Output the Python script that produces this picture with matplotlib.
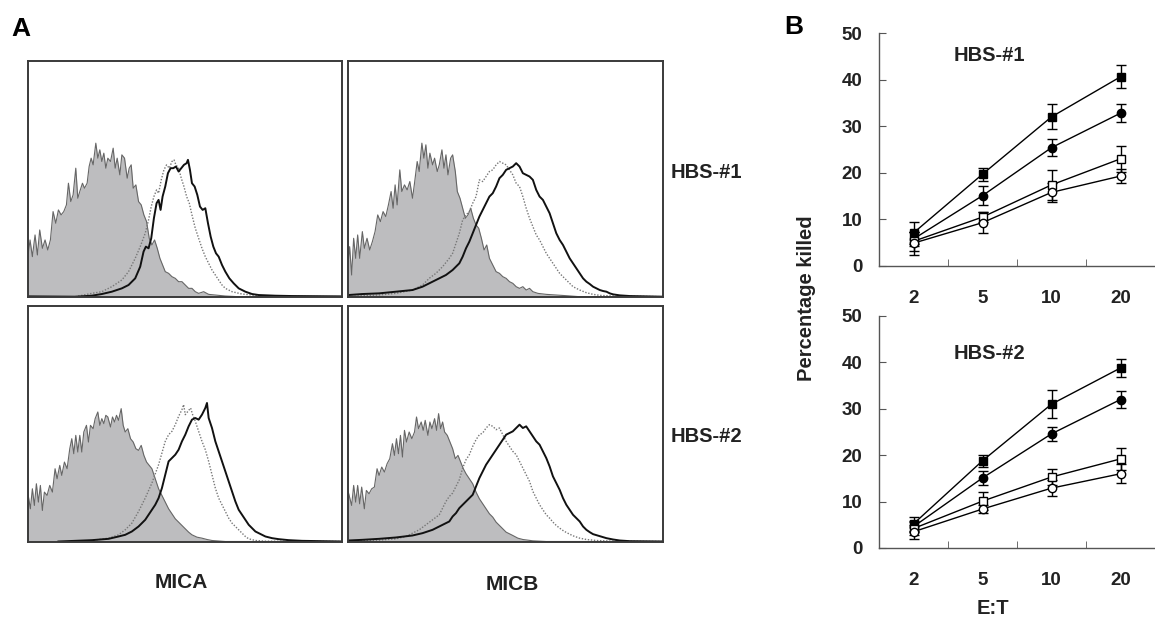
'''
Flow cytometry histograms (MICA / MICB) and cytotoxicity curves for HBS-#1 and HBS-#2
'''
import numpy as np
import matplotlib
matplotlib.use("Agg")
from matplotlib import pyplot as plt

plt.rcParams['font.family'] = ['Liberation Sans', 'DejaVu Sans']
plt.rcParams['font.weight'] = 'bold'

# ---- panel A: histograms, (channel, events) ----
# top left: MICA, HBS-#1
tl_gray = [(8,115),(15,170),(22,120),(30,185),(37,125),(44,200),(52,145),(60,170),(68,140),(76,170),
           (84,255),(92,220),(100,260),(108,245),(116,255),(124,275),(130,340),(137,285),(144,305),
           (152,385),(158,295),(164,315),(172,340),(178,325),(186,340),(192,390),(198,415),(204,395),
           (212,460),(218,415),(224,440),(230,405),(236,430),(242,385),(248,415),(256,405),(264,445),
           (270,385),(276,415),(284,365),(290,425),(298,415),(306,355),(312,385),(318,395),(324,325),
           (332,335),(340,285),(348,275),(356,245),(364,225),(372,175),(380,155),(388,170),(396,145),
           (404,115),(412,95),(420,75),(430,70),(440,60),(450,55),(460,45),(470,45),(480,35),(490,25),
           (500,25),(510,15),(520,10),(535,15),(550,7),(570,5),(600,2),(640,0),(950,0)]
tl_dot = [(150,0),(200,10),(230,15),(260,30),(290,50),(310,75),(330,115),(345,150),(360,190),(370,230),
          (378,270),(386,300),(394,320),(400,310),(408,350),(416,380),(424,395),(432,385),(440,405),
          (446,410),(452,395),(460,385),(468,355),(476,330),(484,300),(492,280),(500,245),(510,205),
          (520,175),(530,145),(540,120),(550,100),(560,80),(570,65),(580,50),(590,35),(600,25),(620,15),
          (650,8),(700,3),(750,1),(950,0)]
tl_solid = [(8,1),(150,0),(200,3),(230,8),(260,15),(290,25),(310,35),(330,55),(345,90),(355,135),(362,150),
            (370,145),(378,175),(386,235),(394,280),(400,290),(406,260),(412,300),(420,330),(428,370),
            (436,385),(444,385),(452,390),(460,375),(468,385),(476,395),(484,400),(488,410),(494,380),
            (500,340),(508,330),(516,305),(524,270),(532,260),(540,265),(548,220),(556,180),(564,150),
            (572,130),(580,120),(590,95),(600,75),(612,55),(625,40),(640,25),(660,15),(680,8),(700,5),
            (750,3),(800,2),(950,1)]

# top right: MICB, HBS-#1
tr_gray = [(8,105),(12,150),(18,65),(24,175),(30,115),(36,185),(42,115),(50,195),(56,145),(64,175),
           (72,140),(80,165),(88,195),(96,245),(104,225),(112,255),(120,240),(128,275),(136,315),
           (142,265),(148,335),(154,275),(162,380),(168,315),(176,335),(184,320),(192,345),(200,295),
           (206,340),(214,405),(220,375),(228,460),(234,415),(240,455),(246,385),(252,430),(260,395),
           (266,415),(274,375),(280,395),(288,440),(294,385),(300,425),(306,365),(314,415),(320,425),
           (328,375),(334,315),(342,295),(350,265),(358,235),(366,245),(374,265),(382,235),(390,215),
           (398,205),(406,175),(414,140),(422,155),(430,115),(440,95),(450,75),(460,70),(470,60),
           (480,55),(490,45),(500,40),(510,30),(520,25),(530,30),(540,20),(550,25),(560,15),(575,10),
           (600,7),(630,5),(660,3),(700,0),(950,0)]
tr_dot = [(8,0),(50,3),(100,5),(150,10),(200,20),(230,35),(250,55),(270,70),(290,90),(310,115),(320,130),
          (330,160),(340,190),(350,230),(360,245),(370,255),(380,280),(390,300),(400,350),(410,345),
          (420,360),(430,375),(440,380),(450,395),(460,405),(470,400),(480,395),(490,380),(500,365),
          (510,340),(520,330),(530,300),(540,265),(550,235),(560,210),(570,185),(580,170),(590,150),
          (600,130),(610,115),(620,100),(630,85),(640,70),(650,60),(660,50),(670,40),(680,30),(690,25),
          (700,20),(720,12),(740,7),(760,4),(800,2),(950,0)]
tr_solid = [(8,5),(50,8),(100,10),(150,15),(200,20),(230,30),(260,45),(280,55),(300,65),(320,80),
            (340,100),(350,120),(360,145),(370,165),(380,190),(390,215),(400,240),(410,260),(420,280),
            (430,300),(440,310),(450,330),(460,355),(470,365),(480,380),(490,385),(500,390),(510,400),
            (520,390),(530,370),(540,365),(550,360),(560,350),(570,320),(580,300),(590,290),(600,270),
            (610,250),(620,220),(630,190),(640,170),(650,155),(660,135),(670,115),(680,100),(690,85),
            (700,70),(710,55),(720,45),(730,38),(740,30),(750,25),(760,20),(770,17),(780,15),(790,10),
            (800,7),(820,4),(850,2),(950,0)]

# bottom left: MICA, HBS-#2
bl_gray = [(8,148),(16,98),(22,158),(28,108),(34,173),(40,118),(46,168),(52,93),(58,148),(66,138),
           (74,168),(82,148),(90,218),(96,188),(104,228),(110,198),(118,238),(126,218),(134,278),
           (140,308),(146,263),(152,318),(158,268),(164,318),(170,268),(176,328),(184,348),(190,298),
           (196,348),(204,338),(210,368),(218,388),(224,348),(230,368),(236,353),(242,378),(248,373),
           (256,343),(262,373),(268,358),(274,378),(280,363),(288,398),(294,348),(300,328),(308,338),
           (316,308),(324,298),(332,278),(340,273),(348,288),(356,258),(364,238),(372,228),(380,218),
           (390,188),(400,158),(410,138),(420,118),(430,98),(440,83),(450,68),(460,58),(470,48),
           (480,38),(490,28),(500,20),(515,13),(530,10),(545,6),(560,3),(600,0),(950,0)]
bl_dot = [(150,0),(200,3),(250,10),(280,20),(300,35),(320,55),(340,90),(360,130),(380,175),(400,230),
          (410,265),(420,300),(430,320),(440,330),(450,350),(460,375),(470,395),(475,410),(480,380),
          (488,390),(496,400),(502,380),(510,360),(520,330),(530,300),(540,275),(550,240),(560,200),
          (570,160),(580,130),(590,110),(600,90),(610,70),(620,55),(630,45),(640,35),(650,25),(660,15),
          (670,8),(690,3),(720,1),(950,0)]
bl_solid = [(100,0),(150,2),(200,4),(250,8),(280,15),(300,20),(320,30),(340,45),(360,65),(380,95),
            (390,110),(400,130),(410,160),(420,200),(430,240),(440,250),(450,260),(460,275),(470,300),
            (480,320),(490,345),(500,365),(510,370),(520,365),(530,380),(540,400),(545,415),(550,370),
            (560,340),(570,300),(580,270),(590,240),(600,210),(610,180),(620,150),(630,120),(640,95),
            (650,80),(660,65),(670,50),(680,40),(690,30),(700,25),(720,15),(740,10),(760,7),(790,4),
            (830,2),(950,0)]

# bottom right: MICB, HBS-#2
br_gray = [(8,148),(18,108),(24,168),(30,118),(36,168),(42,113),(48,163),(56,98),(62,153),(70,143),
           (78,158),(86,163),(94,218),(100,198),(108,223),(116,208),(124,233),(132,248),(140,293),
           (146,258),(152,308),(158,263),(164,318),(170,253),(176,333),(182,298),(190,328),(198,308),
           (206,328),(212,373),(218,338),(226,358),(232,333),(238,363),(246,318),(252,358),(258,338),
           (266,368),(272,333),(278,383),(284,338),(290,358),(296,328),(304,318),(312,298),(320,278),
           (328,248),(336,258),(344,238),(352,218),(360,203),(370,188),(380,173),(390,148),(400,128),
           (410,113),(420,98),(430,83),(440,73),(450,58),(460,48),(470,38),(480,28),(490,23),(500,18),
           (515,10),(530,6),(560,2),(600,0),(950,0)]
br_dot = [(8,1),(50,2),(100,4),(150,8),(180,15),(200,25),(220,35),(240,50),(260,65),(280,80),(290,100),
          (300,120),(310,135),(320,145),(330,165),(340,185),(350,220),(360,245),(370,260),(380,285),
          (390,305),(400,320),(410,325),(420,340),(430,350),(440,345),(450,335),(460,340),(470,320),
          (480,300),(490,285),(500,270),(510,260),(520,240),(530,220),(540,200),(550,180),(560,150),
          (570,130),(580,110),(590,95),(600,80),(610,70),(620,58),(630,48),(640,40),(650,33),(660,27),
          (670,22),(680,17),(700,10),(720,6),(750,3),(800,1),(950,0)]
br_solid = [(8,3),(50,5),(100,8),(150,12),(200,18),(230,25),(260,35),(280,45),(300,55),(310,60),
            (320,75),(330,85),(340,100),(350,110),(360,120),(370,130),(380,140),(390,165),(400,190),
            (410,210),(420,230),(430,245),(440,260),(450,275),(460,290),(470,305),(480,320),(490,325),
            (500,330),(510,340),(520,350),(530,340),(540,345),(550,330),(560,315),(570,300),(580,290),
            (590,270),(600,250),(610,225),(620,195),(630,175),(640,155),(650,130),(660,110),(670,95),
            (680,80),(690,70),(700,60),(710,45),(720,35),(730,28),(740,22),(760,16),(780,10),(800,6),
            (820,3),(850,1),(950,0)]

# ---- panel B: percentage killed ----
et_labels = ['2', '5', '10', '20']

h1_fsq = [7.1, 19.7, 32.0, 40.6]
h1_fsq_err = [2.4, 1.4, 2.7, 2.5]
h1_fci = [5.8, 15.1, 25.4, 32.8]
h1_fci_err = [1.5, 2.0, 1.9, 2.0]
h1_osq = [5.3, 10.5, 17.4, 23.0]
h1_osq_err = [2.0, 1.0, 3.3, 2.8]
h1_oci = [4.9, 9.3, 15.8, 19.3]
h1_oci_err = [2.5, 2.2, 2.0, 1.5]

h2_fsq = [5.2, 18.8, 31.0, 38.8]
h2_fsq_err = [1.5, 1.3, 3.0, 2.0]
h2_fci = [4.6, 15.1, 24.6, 32.0]
h2_fci_err = [1.2, 1.5, 1.5, 1.8]
h2_osq = [4.2, 10.1, 15.3, 19.2]
h2_osq_err = [1.5, 2.0, 1.8, 2.3]
h2_oci = [3.5, 8.4, 12.9, 16.0]
h2_oci_err = [1.5, 0.9, 1.8, 2.0]

W, H = 1155, 622
fig = plt.figure(figsize=(W / 100, H / 100), dpi=100)


def px_axes(left, top, width, height):
    return fig.add_axes([left / W, 1 - (top + height) / H, width / W, height / H])


def histo(ax, gray, dot, solid):
    gx, gy = np.array(gray).T
    ax.fill_between(gx, gy, color='#bdbdbf', lw=0)
    ax.plot(gx, gy, color='#666666', lw=0.8)
    dx, dy = np.array(dot).T
    ax.plot(dx, dy, color='#777777', lw=1.0, ls=(0, (1, 1.2)))
    sx, sy = np.array(solid).T
    ax.plot(sx, sy, color='#111111', lw=1.4)
    ax.set_xlim(8, 950)
    ax.set_ylim(0, 707)
    ax.set_xticks([])
    ax.set_yticks([])
    for s in ax.spines.values():
        s.set_color('#3a3a3a')
        s.set_linewidth(1.4)


ax_tl = px_axes(27.7, 60.7, 314.5, 236)
ax_tr = px_axes(348.3, 60.7, 315, 236)
ax_bl = px_axes(27.7, 305.5, 314.5, 236)
ax_br = px_axes(348.3, 305.5, 315, 236)
histo(ax_tl, tl_gray, tl_dot, tl_solid)
histo(ax_tr, tr_gray, tr_dot, tr_solid)
histo(ax_bl, bl_gray, bl_dot, bl_solid)
histo(ax_br, br_gray, br_dot, br_solid)

fig.text(671 / W, 1 - 172 / H, 'HBS-#1', fontsize=14.5, ha='left', va='center', color='#222222')
fig.text(671 / W, 1 - 437 / H, 'HBS-#2', fontsize=14.5, ha='left', va='center', color='#222222')
fig.text(181 / W, 1 - 583 / H, 'MICA', fontsize=15, ha='center', va='center', color='#222222')
fig.text(512 / W, 1 - 584 / H, 'MICB', fontsize=15, ha='center', va='center', color='#222222')
fig.text(21 / W, 1 - 29 / H, 'A', fontsize=19, ha='center', va='center')
fig.text(794 / W, 1 - 27 / H, 'B', fontsize=19, ha='center', va='center')


def kill_plot(ax, series, title, title_y):
    xs = np.arange(len(et_labels))
    for vals, err, mk, fc in series:
        ax.errorbar(xs, vals, yerr=err, color='black', lw=1.0, elinewidth=1.0,
                    capsize=3.5, capthick=1.0, marker=mk, ms=6,
                    mfc=fc, mec='black', mew=1.0)
    ax.set_xlim(-0.5, 3.5)
    ax.set_ylim(0, 50)
    ax.spines['top'].set_visible(False)
    ax.spines['right'].set_visible(False)
    for s in ('left', 'bottom'):
        ax.spines[s].set_color('#555555')
        ax.spines[s].set_linewidth(1.0)
    ax.set_yticks([0, 10, 20, 30, 40, 50])
    ax.tick_params(axis='y', direction='in', length=5, color='#555555', labelsize=13.5,
                   labelcolor='#222222', pad=12)
    ax.set_xticks(xs)
    ax.set_xticklabels(et_labels)
    ax.set_xticks([0.5, 1.5, 2.5], minor=True)
    ax.tick_params(axis='x', which='major', length=0, labelsize=13.5, labelcolor='#222222', pad=17)
    ax.tick_params(axis='x', which='minor', direction='in', length=5, color='#555555')
    for lab in ax.get_xticklabels() + ax.get_yticklabels():
        lab.set_fontweight('bold')
    ax.text(0.40, title_y, title, transform=ax.transAxes, fontsize=14.5, ha='center', va='center',
            color='#222222')


ax_b1 = px_axes(879, 33, 276, 233)
ax_b2 = px_axes(879, 316, 276, 232)
kill_plot(ax_b1, [(h1_fsq, h1_fsq_err, 's', 'black'), (h1_fci, h1_fci_err, 'o', 'black'),
                  (h1_osq, h1_osq_err, 's', 'white'), (h1_oci, h1_oci_err, 'o', 'white')], 'HBS-#1', 0.905)
kill_plot(ax_b2, [(h2_fsq, h2_fsq_err, 's', 'black'), (h2_fci, h2_fci_err, 'o', 'black'),
                  (h2_osq, h2_osq_err, 's', 'white'), (h2_oci, h2_oci_err, 'o', 'white')], 'HBS-#2', 0.84)

fig.text(806 / W, 1 - 298 / H, 'Percentage killed', fontsize=14.5, rotation=90, ha='center', va='center',
         color='#222222')
fig.text(993 / W, 1 - 609 / H, 'E:T', fontsize=14.5, ha='center', va='center', color='#222222')

fig.savefig('out.png', dpi=100)
